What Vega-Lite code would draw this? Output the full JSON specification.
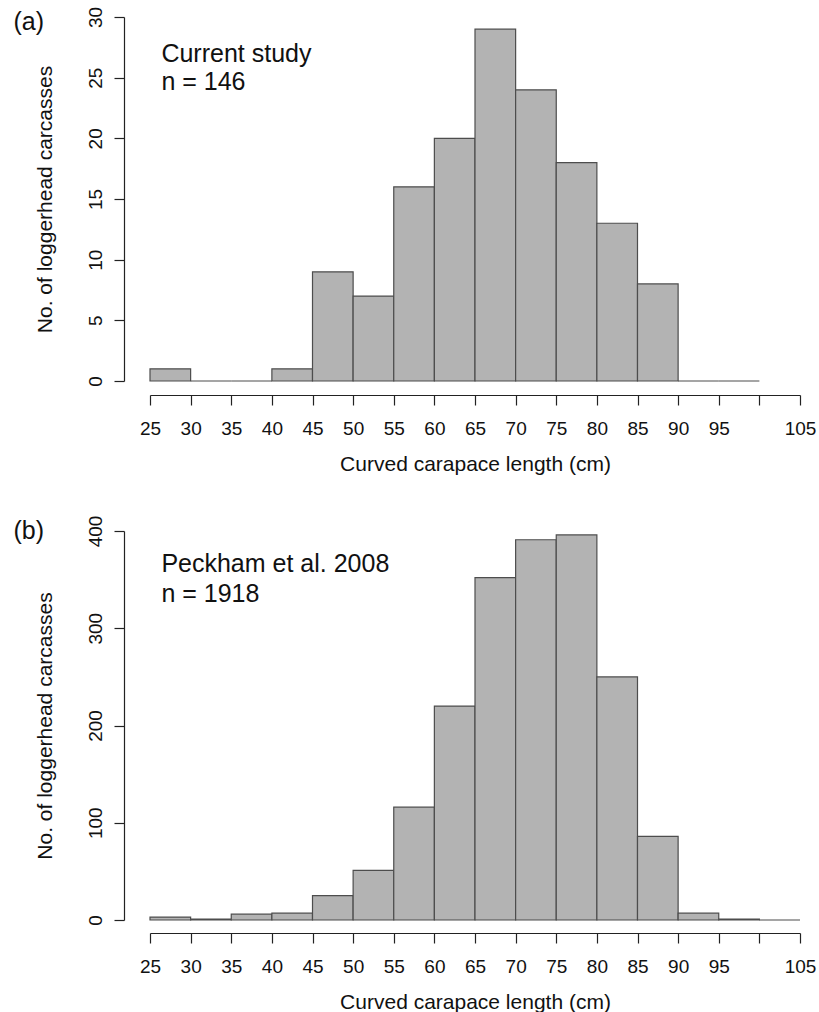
{
  "$schema": "https://vega.github.io/schema/vega-lite/v6.json",
  "padding": {"left": 13, "top": 6, "right": 4, "bottom": 4},
  "background": "white",
  "bounds": "flush",
  "spacing": 150,
  "config": {
    "view": {"stroke": null},
    "font": "Liberation Sans",
    "text": {"font": "Liberation Sans", "color": "#111"},
    "axis": {
      "grid": false,
      "domainColor": "#222",
      "tickColor": "#222",
      "labelColor": "#111",
      "titleColor": "#111",
      "labelFont": "Liberation Sans",
      "titleFont": "Liberation Sans",
      "labelFontSize": 19,
      "titleFontSize": 21,
      "titleFontWeight": "normal",
      "tickSize": 10,
      "domainWidth": 1.2,
      "tickWidth": 1.2,
      "labelFlush": false,
      "labelOverlap": false
    },
    "axisX": {"offset": 14, "labelPadding": 14, "titlePadding": 15},
    "axisY": {"offset": 26, "labelAngle": -90, "labelAlign": "center", "labelBaseline": "alphabetic", "labelPadding": 13, "titlePadding": 31}
  },
  "datasets": {
    "a": [
      {"bin_start": 25, "bin_end": 30, "count": 1},
      {"bin_start": 30, "bin_end": 35, "count": 0},
      {"bin_start": 35, "bin_end": 40, "count": 0},
      {"bin_start": 40, "bin_end": 45, "count": 1},
      {"bin_start": 45, "bin_end": 50, "count": 9},
      {"bin_start": 50, "bin_end": 55, "count": 7},
      {"bin_start": 55, "bin_end": 60, "count": 16},
      {"bin_start": 60, "bin_end": 65, "count": 20},
      {"bin_start": 65, "bin_end": 70, "count": 29},
      {"bin_start": 70, "bin_end": 75, "count": 24},
      {"bin_start": 75, "bin_end": 80, "count": 18},
      {"bin_start": 80, "bin_end": 85, "count": 13},
      {"bin_start": 85, "bin_end": 90, "count": 8},
      {"bin_start": 90, "bin_end": 95, "count": 0},
      {"bin_start": 95, "bin_end": 100, "count": 0}
    ],
    "b": [
      {"bin_start": 25, "bin_end": 30, "count": 3},
      {"bin_start": 30, "bin_end": 35, "count": 1},
      {"bin_start": 35, "bin_end": 40, "count": 6},
      {"bin_start": 40, "bin_end": 45, "count": 7},
      {"bin_start": 45, "bin_end": 50, "count": 25},
      {"bin_start": 50, "bin_end": 55, "count": 51},
      {"bin_start": 55, "bin_end": 60, "count": 116},
      {"bin_start": 60, "bin_end": 65, "count": 220},
      {"bin_start": 65, "bin_end": 70, "count": 352},
      {"bin_start": 70, "bin_end": 75, "count": 391},
      {"bin_start": 75, "bin_end": 80, "count": 396},
      {"bin_start": 80, "bin_end": 85, "count": 250},
      {"bin_start": 85, "bin_end": 90, "count": 86},
      {"bin_start": 90, "bin_end": 95, "count": 7},
      {"bin_start": 95, "bin_end": 100, "count": 1},
      {"bin_start": 100, "bin_end": 105, "count": 0}
    ]
  },
  "vconcat": [
    {
      "width": 650,
      "height": 364,
      "layer": [
        {
          "data": {"name": "a"},
          "mark": {"type": "rect", "fill": "#b3b3b3", "stroke": "#4d4d4d", "strokeWidth": 1.2},
          "encoding": {
            "x": {"field": "bin_start", "type": "quantitative",
                  "scale": {"domain": [25, 105], "nice": false, "zero": false},
                  "axis": {"values": [25, 30, 35, 40, 45, 50, 55, 60, 65, 70, 75, 80, 85, 90, 95, 100, 105],
                           "labelExpr": "datum.value == 100 ? '' : datum.label",
                           "title": "Curved carapace length (cm)"}},
            "x2": {"field": "bin_end"},
            "y": {"field": "count", "type": "quantitative",
                  "scale": {"domain": [0, 30], "nice": false},
                  "axis": {"values": [0, 5, 10, 15, 20, 25, 30], "title": "No. of loggerhead carcasses"}},
            "y2": {"datum": 0}
          }
        },
        {
          "data": {"values": [{"label": "(a)"}]},
          "mark": {"type": "text", "align": "left", "baseline": "alphabetic", "fontSize": 25},
          "encoding": {
            "x": {"datum": 8.2},
            "y": {"datum": 28.9},
            "text": {"field": "label"}
          }
        },
        {
          "data": {"values": [{"label": "Current study"}]},
          "mark": {"type": "text", "align": "left", "baseline": "alphabetic", "fontSize": 25, "lineHeight": 28},
          "encoding": {
            "x": {"datum": 26.4},
            "y": {"datum": 26.3},
            "text": {"value": ["Current study", "n = 146"]}
          }
        }
      ]
    },
    {
      "width": 650,
      "height": 389,
      "layer": [
        {
          "data": {"name": "b"},
          "mark": {"type": "rect", "fill": "#b3b3b3", "stroke": "#4d4d4d", "strokeWidth": 1.2},
          "encoding": {
            "x": {"field": "bin_start", "type": "quantitative",
                  "scale": {"domain": [25, 105], "nice": false, "zero": false},
                  "axis": {"values": [25, 30, 35, 40, 45, 50, 55, 60, 65, 70, 75, 80, 85, 90, 95, 100, 105],
                           "labelExpr": "datum.value == 100 ? '' : datum.label",
                           "title": "Curved carapace length (cm)", "offset": 13}},
            "x2": {"field": "bin_end"},
            "y": {"field": "count", "type": "quantitative",
                  "scale": {"domain": [0, 400], "nice": false},
                  "axis": {"values": [0, 100, 200, 300, 400], "title": "No. of loggerhead carcasses"}},
            "y2": {"datum": 0}
          }
        },
        {
          "data": {"values": [{"label": "(b)"}]},
          "mark": {"type": "text", "align": "left", "baseline": "alphabetic", "fontSize": 25},
          "encoding": {
            "x": {"datum": 8.2},
            "y": {"datum": 391.8},
            "text": {"field": "label"}
          }
        },
        {
          "data": {"values": [{"label": "Peckham et al. 2008"}]},
          "mark": {"type": "text", "align": "left", "baseline": "alphabetic", "fontSize": 25, "lineHeight": 30},
          "encoding": {
            "x": {"datum": 26.4},
            "y": {"datum": 358},
            "text": {"value": ["Peckham et al. 2008", "n = 1918"]}
          }
        }
      ]
    }
  ]
}
